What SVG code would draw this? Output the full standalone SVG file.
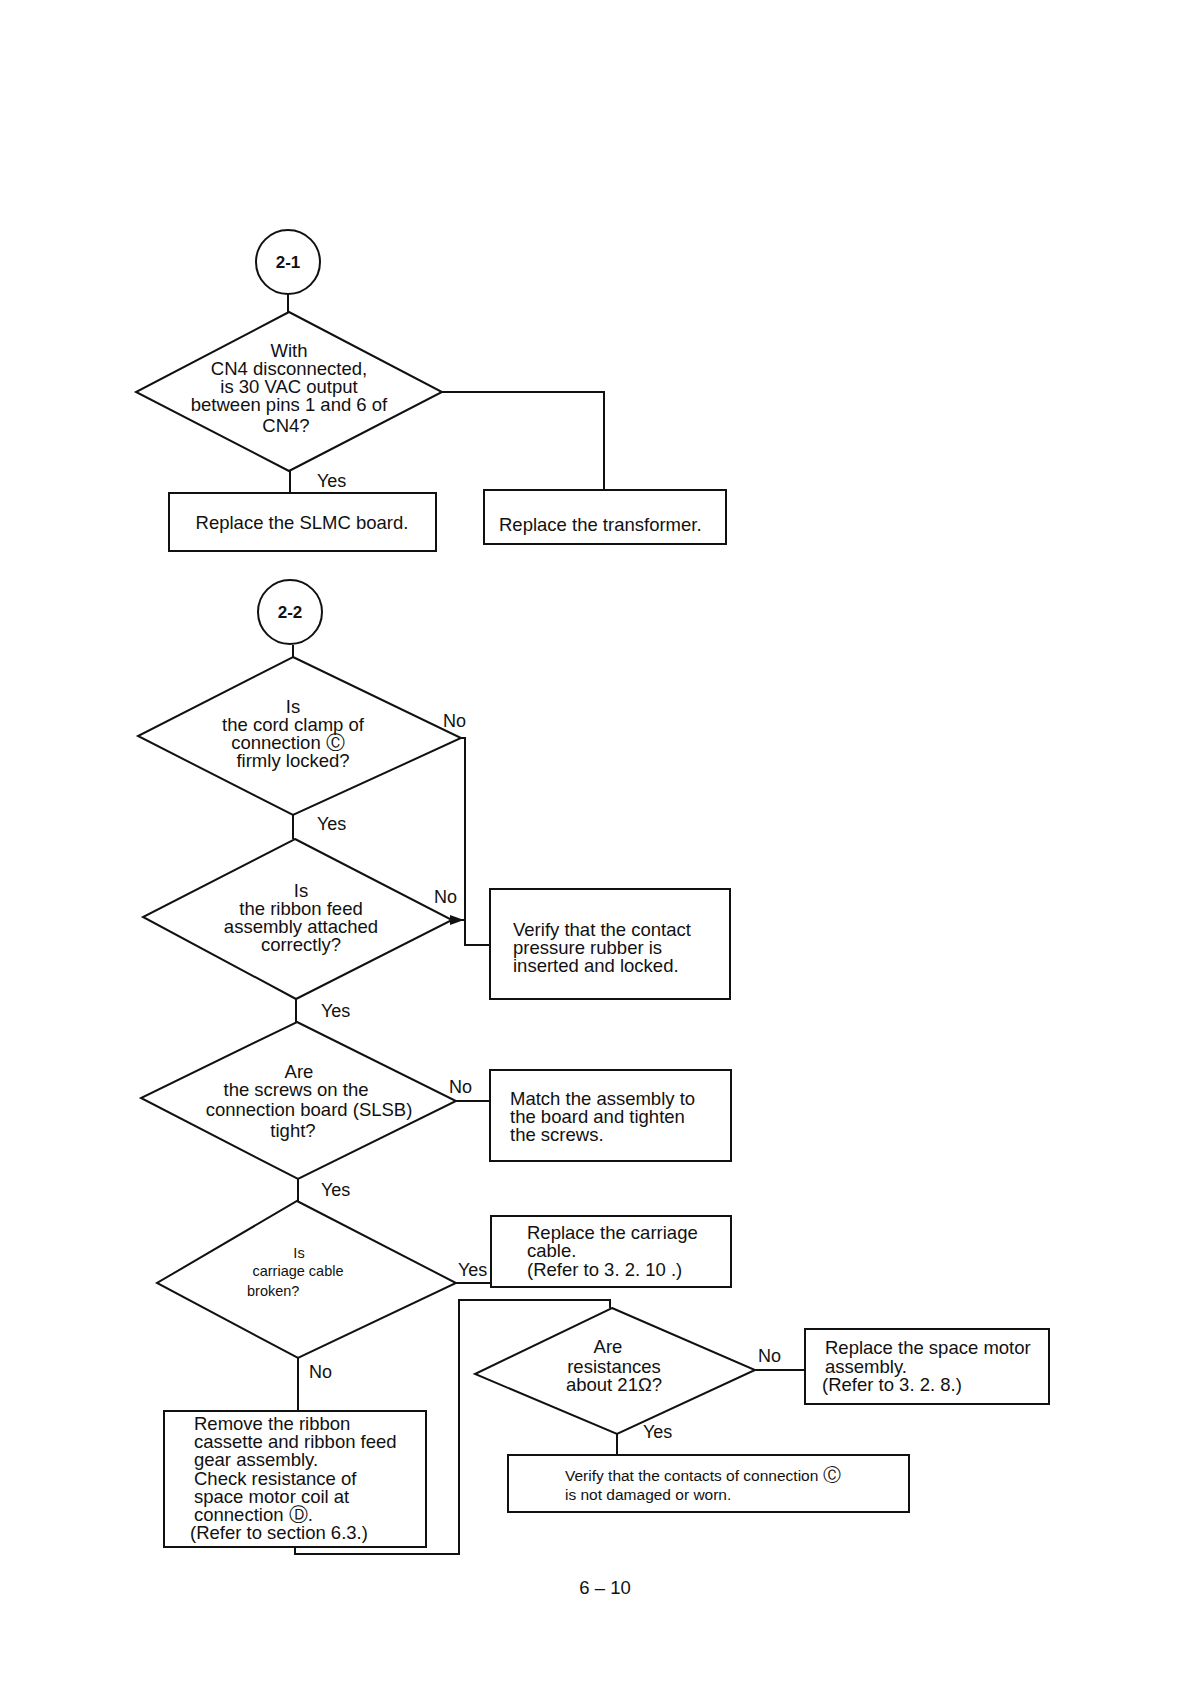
<svg xmlns="http://www.w3.org/2000/svg" width="1188" height="1682" viewBox="0 0 1188 1682">
<style>
.s{fill:none;stroke:#111;stroke-width:2}
.n{fill:#fff;stroke:#111;stroke-width:2}
text{font-family:"Liberation Sans",Arial,sans-serif;font-size:18.5px;fill:#111}
.c{text-anchor:middle}
.sm{font-size:15.5px}
.xs{font-size:14.5px}
.lb{font-size:18px}
.st{font-size:17px;font-weight:bold}
</style>
<rect width="1188" height="1682" fill="#fff"/>
<g id="connectors" class="s">
<path d="M288,294 V312"/>
<path d="M442,392 H604 V490"/>
<path d="M290,471 V493"/>
<path d="M293,645 V657"/>
<path d="M461,738 H465 V945 H490"/>
<path d="M465,920 H453"/>
<path d="M293,815 V839"/>
<path d="M296,999 V1022"/>
<path d="M456,1101 H490"/>
<path d="M298,1179 V1201"/>
<path d="M456,1283 H491"/>
<path d="M298,1358 V1411"/>
<path d="M295,1547 V1554 H459 V1300 H610 V1308"/>
<path d="M755,1370 H805"/>
<path d="M617,1434 V1455"/>
<path d="M450,920 L464,915 L464,925 Z" fill="#111" stroke="none" transform="rotate(180 457 920)"/>
</g>
<g id="labels">
<text class="lb" x="317" y="487">Yes</text>
<text class="lb" x="443" y="727">No</text>
<text class="lb" x="317" y="830">Yes</text>
<text class="lb" x="434" y="903">No</text>
<text class="lb" x="321" y="1017">Yes</text>
<text class="lb" x="449" y="1093">No</text>
<text class="lb" x="321" y="1196">Yes</text>
<text class="lb" x="458" y="1276">Yes</text>
<text class="lb" x="309" y="1378">No</text>
<text class="lb" x="758" y="1362">No</text>
<text class="lb" x="643" y="1438">Yes</text>
</g>
<g id="start21">
<circle class="n" cx="288" cy="262" r="32"/>
<text class="c st" x="288" y="268">2-1</text>
</g>
<g id="d1">
<path class="n" d="M289,312 L442,392 L289,471 L136,392 Z"/>
<text class="c" x="289" y="357">With</text>
<text class="c" x="289" y="375">CN4 disconnected,</text>
<text class="c" x="289" y="393">is 30 VAC output</text>
<text class="c" x="289" y="411">between pins 1 and 6 of</text>
<text class="c" x="286" y="432">CN4?</text>
</g>
<g id="b1">
<rect class="n" x="169" y="493" width="267" height="58"/>
<text class="c" x="302" y="529">Replace the SLMC board.</text>
</g>
<g id="b2">
<rect class="n" x="484" y="490" width="242" height="54"/>
<text x="499" y="531">Replace the transformer.</text>
</g>
<g id="start22">
<circle class="n" cx="290" cy="612" r="32"/>
<text class="c st" x="290" y="618">2-2</text>
</g>
<g id="d2">
<path class="n" d="M293,657 L461,738 L293,815 L138,736 Z"/>
<text class="c" x="293" y="713">Is</text>
<text class="c" x="293" y="731">the cord clamp of</text>
<text class="c" x="288" y="749">connection <tspan font-family="DejaVu Sans">Ⓒ</tspan></text>
<text class="c" x="293" y="767">firmly locked?</text>
</g>
<g id="d3">
<path class="n" d="M295,839 L452,920 L296,999 L143,917 Z"/>
<text class="c" x="301" y="897">Is</text>
<text class="c" x="301" y="915">the ribbon feed</text>
<text class="c" x="301" y="933">assembly attached</text>
<text class="c" x="301" y="951">correctly?</text>
</g>
<g id="b3">
<rect class="n" x="490" y="889" width="240" height="110"/>
<text x="513" y="936">Verify that the contact</text>
<text x="513" y="954">pressure rubber is</text>
<text x="513" y="972">inserted and locked.</text>
</g>
<g id="d4">
<path class="n" d="M297,1022 L456,1101 L298,1179 L141,1098 Z"/>
<text class="c" x="299" y="1078">Are</text>
<text class="c" x="296" y="1096">the  screws  on  the</text>
<text class="c" x="309" y="1116">connection board (SLSB)</text>
<text class="c" x="293" y="1137">tight?</text>
</g>
<g id="b4">
<rect class="n" x="490" y="1070" width="241" height="91"/>
<text x="510" y="1105">Match the assembly to</text>
<text x="510" y="1123">the board and tighten</text>
<text x="510" y="1141">the screws.</text>
</g>
<g id="d5">
<path class="n" d="M297,1201 L456,1283 L298,1358 L157,1283 Z"/>
<text class="c xs" x="299" y="1258">Is</text>
<text class="c xs" x="298" y="1276">carriage cable</text>
<text class="xs" x="247" y="1296">broken?</text>
</g>
<g id="b5">
<rect class="n" x="491" y="1216" width="240" height="71"/>
<text x="527" y="1239">Replace the carriage</text>
<text x="527" y="1257">cable.</text>
<text x="527" y="1276">(Refer to 3. 2. 10 .)</text>
</g>
<g id="b6">
<rect class="n" x="164" y="1411" width="262" height="136"/>
<text x="194" y="1430">Remove the ribbon</text>
<text x="194" y="1448">cassette and ribbon feed</text>
<text x="194" y="1466">gear assembly.</text>
<text x="194" y="1485">Check resistance of</text>
<text x="194" y="1503">space motor coil at</text>
<text x="194" y="1521">connection <tspan font-family="DejaVu Sans">Ⓓ</tspan>.</text>
<text x="190" y="1539">(Refer to section 6.3.)</text>
</g>
<g id="d6">
<path class="n" d="M612,1308 L755,1370 L617,1434 L475,1374 Z"/>
<text class="c" x="608" y="1353">Are</text>
<text class="c" x="614" y="1373">resistances</text>
<text class="c" x="614" y="1391">about 21Ω?</text>
</g>
<g id="b7">
<rect class="n" x="805" y="1329" width="244" height="75"/>
<text x="825" y="1354">Replace the space motor</text>
<text x="825" y="1373">assembly.</text>
<text x="822" y="1391">(Refer to 3. 2. 8.)</text>
</g>
<g id="b8">
<rect class="n" x="508" y="1455" width="401" height="57"/>
<text class="sm" x="565" y="1481">Verify that the contacts of connection <tspan font-family="DejaVu Sans" font-size="18">Ⓒ</tspan></text>
<text class="sm" x="565" y="1500">is not damaged or worn.</text>
</g>
<text class="c" x="605" y="1594" font-size="20">6 – 10</text>
</svg>
